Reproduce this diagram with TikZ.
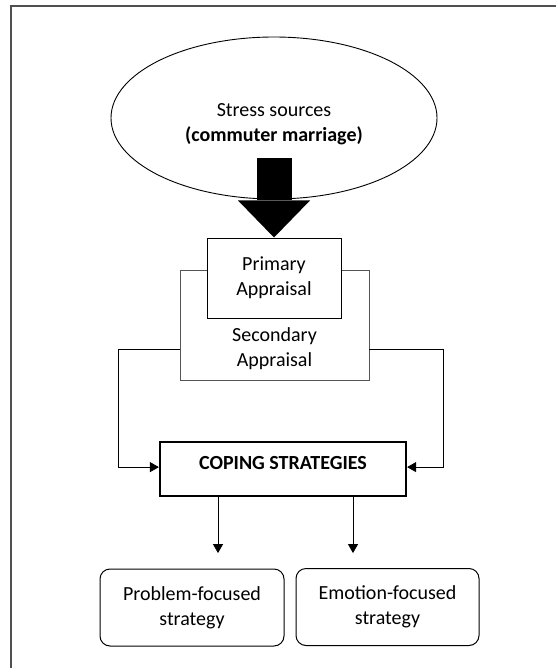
\documentclass[tikz,border=0pt]{standalone}
\usepackage{fontspec}
\setmainfont{Carlito}
\usetikzlibrary{arrows.meta,shapes.geometric}
\definecolor{G4}{RGB}{80,80,80}
\definecolor{G7}{RGB}{85,85,85}

\begin{document}
\begin{tikzpicture}[x=1pt, y=-1pt, font=\fontsize{20}{25}\selectfont,
    box/.style={draw, line width=1pt, align=center},
    arr/.style={-{Triangle[length=9pt,width=10pt]}, line width=0.9pt}]
  \useasboundingbox (0,0) rectangle (555,668);
  \draw[G4, line width=1.6pt] (11,690) -- (11,6) -- (580,6);
  \node[draw, ellipse, line width=0.9pt, minimum width=326pt, minimum height=162pt,
        label={[align=center, yshift=-6pt]center:Stress sources\\\textbf{(commuter marriage)}}] (src) at (274,118) {};
  \node[draw=G7, line width=0.8pt, minimum width=189pt, minimum height=110pt,
        label={[name=secText, align=center, yshift=-24pt]center:Secondary\\Appraisal}] (sec) at (274.5,325) {};
  \node[box, fill=white, minimum width=134pt, minimum height=80pt] (prim) at (274,278) {Primary\\Appraisal};
  \draw[line width=35pt, -{Triangle[width=72pt,length=37pt,line width=0pt]}] ([yshift=-40pt]src.center) -- (prim.north);
  \node[draw, line width=2.2pt, font=\fontsize{20}{25}\selectfont\bfseries, minimum width=246pt,
        text height=14pt, text depth=13pt, inner ysep=13.5pt] (cope) at (283,469) {COPING STRATEGIES};
  \draw[arr] (sec.west |- secText) -- ++(-61pt,0) |- (cope.mid west);
  \draw[arr] (sec.east |- secText) -- ++(74pt,0) |- (cope.mid east);
  \node[box, rounded corners=10pt, minimum width=184pt, minimum height=77pt] (prob) at (192,607.5) {Problem-focused\\strategy};
  \node[box, rounded corners=10pt, minimum width=183pt, minimum height=77pt] (emo) at (387.5,607) {Emotion-focused\\strategy};
  \draw[arr] ([xshift=-65pt]cope.south) -- ++(0,-56pt);
  \draw[arr] ([xshift=70pt]cope.south) -- ++(0,-56pt);
\end{tikzpicture}
\end{document}
